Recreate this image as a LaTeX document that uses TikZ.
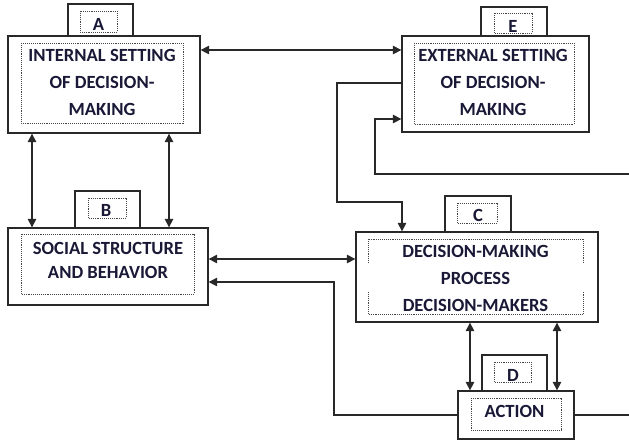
\documentclass[tikz,border=0pt]{standalone}
\usepackage{fontspec}
\setmainfont{Carlito}
\usetikzlibrary{arrows.meta}
\definecolor{ln}{RGB}{40,40,40}
\definecolor{txt}{RGB}{25,25,55}
\definecolor{dotc}{RGB}{70,70,70}
\begin{document}
\begin{tikzpicture}[x=1pt,y=-1pt,
  box/.style={draw=ln,line width=1.3pt,fill=white,rectangle,inner sep=0pt},
  dots/.style={draw=dotc,line width=1pt,dash pattern=on 1pt off 0.9pt},
  lbl/.style={font=\bfseries\fontsize{18.6}{27}\selectfont,text=txt,align=center,inner sep=0pt},
  conn/.style={draw=ln,line width=1.2pt},
  tip/.style={-{Triangle[length=8.5pt,width=8.5pt]}},
  dbl/.style={{Triangle[length=8.5pt,width=8.5pt]}-{Triangle[length=8.5pt,width=8.5pt]}}]
\useasboundingbox (0,0) rectangle (629,440);

% boxes and tabs
\node[box,minimum width=65pt,minimum height=32pt] (Atab) at (100.5,20) {};
\node[box,minimum width=192pt,minimum height=97pt] (A) at (104,84.5) {};
\node[box,minimum width=66pt,minimum height=29pt] (Etab) at (514,21.5) {};
\node[box,minimum width=187pt,minimum height=96pt] (E) at (495.5,84) {};
\node[box,minimum width=65pt,minimum height=37pt] (Btab) at (107.5,209.5) {};
\node[box,minimum width=200pt,minimum height=77pt] (B) at (108,266.5) {};
\node[box,minimum width=66pt,minimum height=36pt] (Ctab) at (478,214) {};
\node[box,minimum width=242pt,minimum height=90pt] (C) at (477,277) {};
\node[box,minimum width=65pt,minimum height=36pt] (Dtab) at (514.5,373) {};
\node[box,minimum width=116pt,minimum height=48pt] (D) at (516,415) {};

% dotted inner frames
\draw[dots] (80,11) rectangle (117,32);
\draw[dots] (21,43) rectangle (183,123);
\draw[dots] (494,13) rectangle (532,33);
\draw[dots] (414,43) rectangle (574,124);
\draw[dots] (88,198) rectangle (126,218);
\draw[dots] (21,234) rectangle (194,294);
\draw[dots] (457,203) rectangle (497,223);
\draw[dots] (368,263) -- (368,239) -- (583,239) -- (583,263);
\draw[dots] (368,292) -- (368,314) -- (583,314) -- (583,292);
\draw[dots] (494,362) rectangle (531,382);
\draw[dots] (471,398) rectangle (561,430);

% texts
\node[lbl] (Al) at (98.5,24) {A};
\node[lbl] (Atx) at (102,82) {INTERNAL SETTING\\OF DECISION-\\MAKING};
\node[lbl] (El) at (513,26.5) {E};
\node[lbl] (Etx) at (493,82.5) {EXTERNAL SETTING\\OF DECISION-\\MAKING};
\node[lbl] (Bl) at (106,210.5) {B};
\node[lbl] (Btx) at (108,260.5) {SOCIAL STRUCTURE\\[-3pt]AND BEHAVIOR};
\node[lbl] (Cl) at (478,215.5) {C};
\node[lbl] (Ctx) at (475.5,278) {DECISION-MAKING\\PROCESS\\DECISION-MAKERS};
\node[lbl] (Dl) at (513,375) {D};
\node[lbl] (Dtx) at (514.5,411) {ACTION};

% connector helper coordinates
\coordinate (yae) at (0,50);
\coordinate (x1) at (32,0);
\coordinate (x2) at (169,0);
\coordinate (ec1) at (337,83);
\coordinate (ec2) at (402,202);
\coordinate (r1) at (629,174);
\coordinate (re) at (375,119);
\coordinate (ybc) at (0,259);
\coordinate (db) at (334,282);
\coordinate (x3) at (470,0);
\coordinate (x4) at (557,0);
\coordinate (r2) at (629,0);

% connectors
\draw[conn,dbl] (A.east |- yae) -- (E.west |- yae);
\draw[conn,dbl] (A.south -| x1) -- (B.north -| x1);
\draw[conn,dbl] (A.south -| x2) -- (B.north -| x2);
\draw[conn,tip] (E.west |- ec1) -- (ec1) |- (ec2) -- (C.north -| ec2);
\draw[conn,tip] (r1) -| (re) -- (E.west |- re);
\draw[conn,dbl] (B.east |- ybc) -- (C.west |- ybc);
\draw[conn,tip] (D.west) -| (db) -- (B.east |- db);
\draw[conn,dbl] (C.south -| x3) -- (D.north -| x3);
\draw[conn,dbl] (C.south -| x4) -- (D.north -| x4);
\draw[conn] (D.east) -- (D.east -| r2);
\end{tikzpicture}
\end{document}
